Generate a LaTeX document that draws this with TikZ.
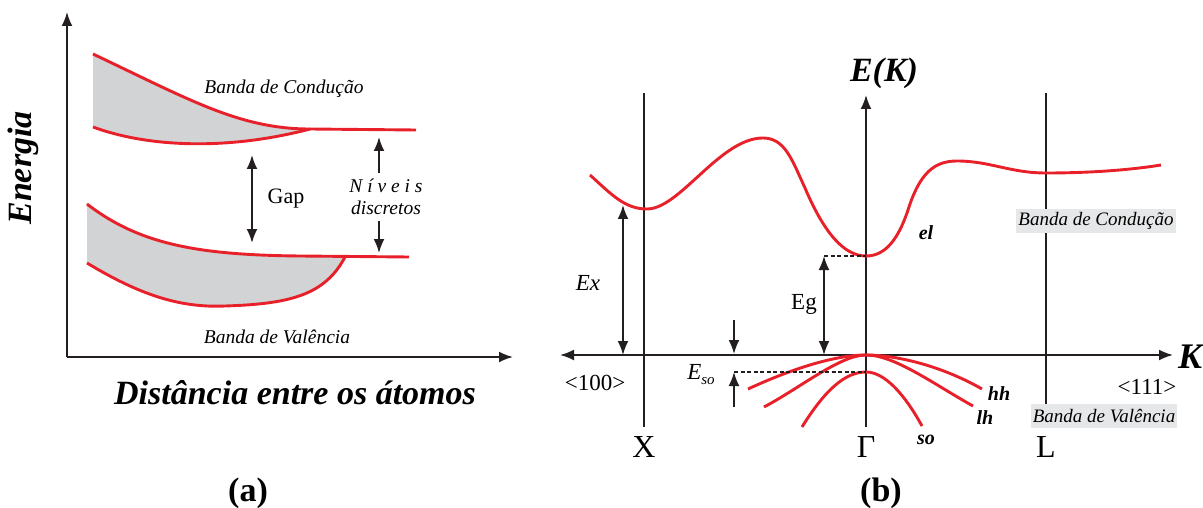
\documentclass[tikz,border=0pt]{standalone}
\usepackage{fontspec}
\setmainfont{Liberation Serif}
\usetikzlibrary{arrows.meta}
\definecolor{bandred}{HTML}{E8202A}
\definecolor{bandgray}{HTML}{D1D3D4}
\definecolor{labgray}{HTML}{E6E7E8}
\definecolor{axisblack}{HTML}{231F20}
\begin{document}
\begin{tikzpicture}[x=1pt,y=-1pt,
  redc/.style={draw=bandred,line width=2.9pt},
  axisl/.style={draw=axisblack,line width=1.9pt},
  thinl/.style={draw=axisblack,line width=1.6pt},
  onetip/.style={-{Latex[length=14pt,width=11pt]}},
  twotip/.style={{Latex[length=14pt,width=11pt]}-{Latex[length=14pt,width=11pt]}},
  dashl/.style={draw=axisblack,line width=1.3pt,dash pattern=on 4pt off 2.5pt},
  lbl/.style={font=\fontsize{19.5}{22}\selectfont\itshape,inner sep=0pt},
  titl/.style={font=\fontsize{34}{40}\selectfont\bfseries\itshape,inner sep=0pt},
  sym/.style={font=\fontsize{32}{36}\selectfont,inner sep=0pt},
  mid/.style={font=\fontsize{23}{27}\selectfont,inner sep=0pt},
  bl/.style={font=\fontsize{20}{24}\selectfont\bfseries\itshape,inner sep=0pt},
  grlab/.style={font=\fontsize{19}{22}\selectfont\itshape,fill=labgray,inner xsep=2pt,inner ysep=0pt,minimum height=24pt}
]
\useasboundingbox (0,0) rectangle (1203,508);

% ================= (a) =================
\coordinate (aO) at (67,357);
\coordinate (aY) at (67,12);
\coordinate (aX) at (513,357);
\draw[axisl,onetip] (aO) -- (aY);
\draw[axisl,onetip] (aO) -- (aX);

% upper band
\fill[bandgray] (93,54) .. controls (190,100) and (240,129) .. (310,129)
  .. controls (230,150) and (150,148) .. (93,127) -- cycle;
\draw[redc] (93,54) .. controls (190,100) and (240,129) .. (310,129) -- (416,130);
\draw[redc] (93,127) .. controls (150,148) and (230,150) .. (310,129);

% lower band
\fill[bandgray] (87,204) .. controls (140,245) and (200,255) .. (300,256) -- (345,257)
  .. controls (325,295) and (290,304) .. (225,306)
  .. controls (180,308) and (140,295) .. (87,263) -- cycle;
\draw[redc] (87,204) .. controls (140,245) and (200,255) .. (300,256) -- (409,257);
\draw[redc] (87,263) .. controls (140,295) and (180,308) .. (225,306)
  .. controls (290,304) and (325,295) .. (345,257);

% gap arrow
\coordinate (gT) at (252,155);
\coordinate (gB) at (252,243);
\draw[axisl,twotip] (gT) -- (gB);
\node[mid,font=\fontsize{22}{26}\selectfont] (gap) at (286,199) {Gap};

% niveis arrows
\coordinate (nU0) at (379,173);
\coordinate (nU1) at (379,137);
\coordinate (nD0) at (379,221);
\coordinate (nD1) at (379,253);
\draw[axisl,onetip] (nU0) -- (nU1);
\draw[axisl,onetip] (nD0) -- (nD1);
\node[lbl] (niv) at (386,186) {N í v e i s};
\node[lbl] (disc) at (386,208) {discretos};

\node[lbl] (bcL) at (284,89) {Banda de Condução};
\node[lbl] (bvL) at (277,337) {Banda de Valência};
\node[titl,rotate=90] (energia) at (23,168) {Energia};
\node[titl] (dist) at (295,393) {Distância entre os átomos};
\node[font=\fontsize{34}{40}\selectfont\bfseries,inner sep=0pt] (la) at (248,493) {(a)};

% ================= (b) =================
\coordinate (kL) at (560,355);
\coordinate (kR) at (1173,355);
\coordinate (G0) at (866,427);
\coordinate (G1) at (866,95);
\coordinate (X0) at (644,427);
\coordinate (X1) at (644,93);
\coordinate (L0) at (1046,427);
\coordinate (L1) at (1046,93);
\draw[thinl] (X0) -- (X1);
\draw[thinl] (L0) -- (L1);
\draw[axisl,twotip] (kL) -- (kR);
\draw[axisl,onetip] (G0) -- (G1);

% conduction band
\draw[redc] (590,175) .. controls (612,195) and (625,209) .. (647,209)
  .. controls (680,209) and (720,138) .. (763,138)
  .. controls (785,138) and (792,160) .. (805,188)
  .. controls (825,235) and (845,256) .. (866,256)
  .. controls (885,256) and (898,240) .. (908,210)
  .. controls (920,172) and (935,161) .. (957,161)
  .. controls (990,161) and (1010,173) .. (1046,173)
  .. controls (1090,173) and (1130,170) .. (1161,165);

% valence bands
\draw[redc] (748,389) .. controls (800,365) and (840,355) .. (866,355)
  .. controls (895,355) and (940,365) .. (982,389);
\draw[redc] (764,407) .. controls (800,388) and (840,355) .. (866,355)
  .. controls (895,355) and (935,385) .. (973,406);
\draw[redc] (802,427) .. controls (825,390) and (845,372) .. (866,372)
  .. controls (885,372) and (905,395) .. (922,426);

% Ex
\coordinate (ex0) at (623,355);
\coordinate (ex1) at (623,205);
\draw[axisl,twotip] (ex0) -- (ex1);
\node[mid,font=\fontsize{23}{27}\selectfont\itshape] (exl) at (588,283) {Ex};

% Eg
\coordinate (eg0) at (824,355);
\coordinate (eg1) at (824,256);
\coordinate (egG) at (866,256);
\draw[dashl] (eg1) -- (egG);
\draw[axisl,twotip] (eg0) -- (eg1);
\node[mid] (egl) at (804,304) {Eg};

% Eso
\coordinate (so0) at (734,320);
\coordinate (so1) at (734,354);
\coordinate (so2) at (734,407);
\coordinate (so3) at (734,372);
\coordinate (soG) at (866,372);
\draw[dashl] (so3) -- (soG);
\draw[axisl,onetip] (so0) -- (so1);
\draw[axisl,onetip] (so2) -- (so3);
\node[inner sep=0pt] (esol) at (701,375) {\fontsize{23}{27}\selectfont\itshape E\raisebox{-5pt}{\fontsize{15}{15}\selectfont so}};

% labels
\node[titl] (ek) at (884,73) {E(K)};
\node[titl,anchor=west,font=\fontsize{36}{40}\selectfont\bfseries\itshape] (kk) at (1178,357) {K};
\node[mid] (c100) at (595,383) {<100>};
\node[mid] (c111) at (1147,387) {<111>};
\node[sym] (xl) at (644,447) {X};
\node[sym] (gl) at (866,447) {Γ};
\node[sym] (ll) at (1046,447) {L};
\node[bl] (el) at (926,233) {el};
\node[bl] (hh) at (999,394) {hh};
\node[bl] (lh) at (985,418) {lh};
\node[bl] (so) at (926,440) {so};
\node[grlab] (bcR) at (1096,221) {Banda de Condução};
\node[grlab] (bvR) at (1104,416) {Banda de Valência};
\node[font=\fontsize{34}{40}\selectfont\bfseries,inner sep=0pt] (lb) at (881,493) {(b)};
\end{tikzpicture}
\end{document}
